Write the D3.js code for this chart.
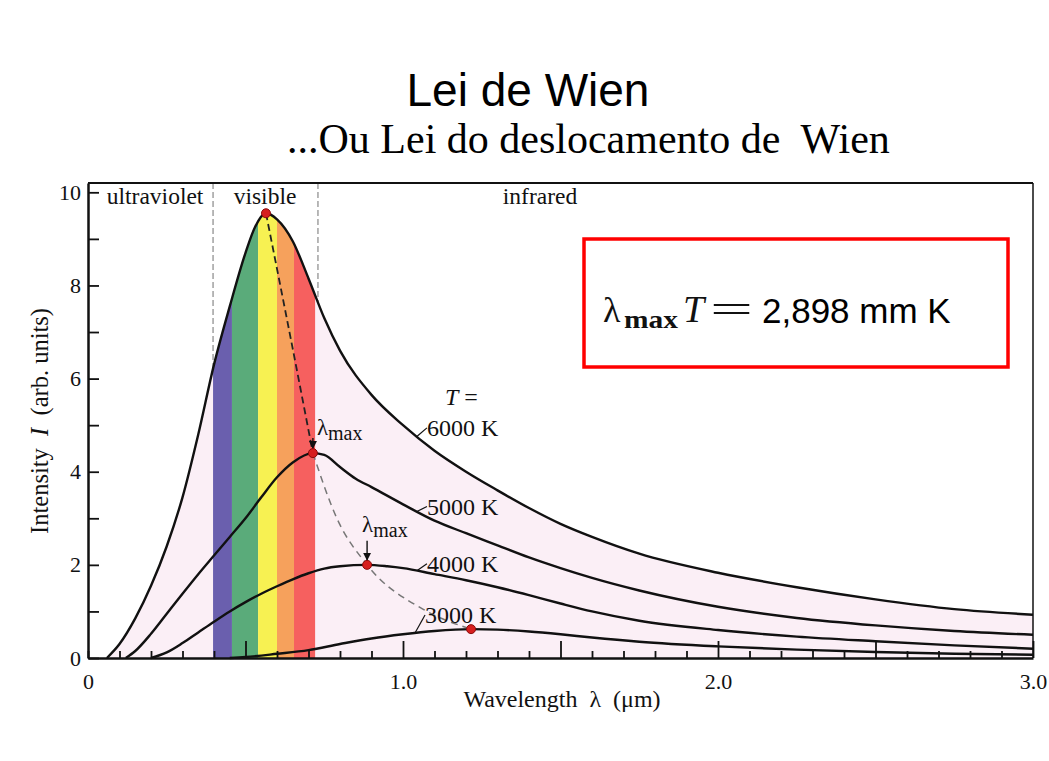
<!DOCTYPE html>
<html><head><meta charset="utf-8">
<script src="https://cdn.jsdelivr.net/npm/d3@7"></script>
<style>body{margin:0;background:#fff}svg{display:block}</style>
</head><body><svg id="c" width="1049" height="761"></svg>
<script>
// ---------- data ----------
const tempLabels = ["6000 K", "5000 K", "4000 K", "3000 K"];

const lam6000 = [0.06,0.10,0.15,0.20,0.25,0.30,0.35,0.40,0.45,0.50,0.53,0.565,0.60,0.65,0.70,0.75,0.80,0.90,1.00,1.10,1.20,1.30,1.40,1.50,1.60,1.75,2.00,2.25,2.50,2.75,3.00];
const int6000 = [0,0.3,0.85,1.55,2.4,3.45,4.8,6.3,7.55,8.7,9.25,9.55,9.42,8.95,8.15,7.3,6.6,5.65,5.0,4.45,4.0,3.6,3.22,2.88,2.6,2.24,1.83,1.52,1.26,1.05,0.93];

const lam5000 = [0.12,0.15,0.20,0.25,0.30,0.35,0.40,0.45,0.50,0.55,0.60,0.65,0.714,0.75,0.80,0.85,0.90,1.00,1.10,1.20,1.30,1.40,1.50,1.60,1.75,2.00,2.25,2.50,2.75,3.00];
const int5000 = [0,0.15,0.52,0.95,1.38,1.8,2.2,2.6,3.0,3.45,3.88,4.2,4.4,4.36,4.1,3.85,3.67,3.3,2.95,2.68,2.42,2.16,1.93,1.72,1.45,1.1,0.86,0.7,0.58,0.5];

const lam4000 = [0.20,0.25,0.30,0.35,0.40,0.45,0.50,0.55,0.60,0.65,0.70,0.75,0.80,0.886,0.95,1.00,1.10,1.20,1.30,1.40,1.50,1.60,1.75,2.00,2.25,2.50,2.75,3.00];
const int4000 = [0,0.12,0.32,0.55,0.78,1.0,1.2,1.38,1.54,1.69,1.82,1.92,1.97,2.0,1.97,1.93,1.8,1.67,1.52,1.35,1.17,1.0,0.8,0.6,0.46,0.36,0.27,0.2];

const lam3000 = [0.45,0.50,0.60,0.70,0.80,0.90,1.00,1.10,1.216,1.30,1.40,1.50,1.60,1.75,2.00,2.25,2.50,2.75,3.00];
const int3000 = [0,0.02,0.09,0.17,0.3,0.42,0.51,0.58,0.62,0.61,0.57,0.51,0.44,0.35,0.25,0.18,0.13,0.09,0.07];

const peakLambda = [0.565, 0.714, 0.886, 1.216];
const peakIntensity = [9.55, 4.4, 2.0, 0.62];

const locusLambda = [0.565, 0.641, 0.714, 0.79, 0.886, 1.063, 1.216];
const locusIntensity = [9.55, 6.95, 4.4, 3.0, 2.0, 1.05, 0.62];

const bandEdges = [0.397, 0.457, 0.54, 0.60, 0.654, 0.721];
const regionBounds = [0.397, 0.73];
const regionLabels = ["ultraviolet", "visible", "infrared"];
const regionCenters = [0.213, 0.562, 1.435];

const yTicks = [0,1,2,3,4,5,6,7,8,9,10];
const xTicks = d3.range(0, 31).map(i => i / 10);
const xTickLabels = {0: "0", 1: "1.0", 2: "2.0", 3: "3.0"};

// ---------- styles ----------
const bandColors = ["#6a5fae", "#5aab7a", "#f7f152", "#f6a15c", "#f6605f"];
const pink = "#fbeff6";
const serif = "'Liberation Serif', 'Times New Roman', serif";
const sans = "'Liberation Sans', Arial, sans-serif";

// ---------- setup ----------
const svg = d3.select("#c");
const x = d3.scaleLinear().domain([0, 3]).range([88, 1033]);
const y = d3.scaleLinear().domain([0, 10.2]).range([658, 183]);

const toPts = (l, v) => l.map((d, i) => [d, v[i]]);
const curves = [toPts(lam6000, int6000), toPts(lam5000, int5000), toPts(lam4000, int4000), toPts(lam3000, int3000)];
const line = d3.line().x(d => x(d[0])).y(d => y(d[1])).curve(d3.curveMonotoneX);
const area = d3.area().x(d => x(d[0])).y0(y(0)).y1(d => y(d[1])).curve(d3.curveMonotoneX);

function interp(pts, l) {
  const i = d3.bisector(d => d[0]).left(pts, l);
  if (i <= 0) return pts[0][1];
  if (i >= pts.length) return pts[pts.length - 1][1];
  const a = pts[i - 1], b = pts[i];
  return a[1] + (b[1] - a[1]) * (l - a[0]) / (b[0] - a[0]);
}

const defs = svg.append("defs");
defs.append("clipPath").attr("id", "spec").append("path").attr("d", area(curves[0]));
defs.append("marker").attr("id", "arr").attr("viewBox", "0 0 10 10")
  .attr("refX", 10).attr("refY", 5).attr("markerWidth", 8).attr("markerHeight", 9)
  .attr("markerUnits", "userSpaceOnUse").attr("orient", "auto")
  .append("path").attr("d", "M0,0L10,5L0,10Z").attr("fill", "#111");

// region separators (under fill)
svg.selectAll("line.sep").data(regionBounds).join("line")
  .attr("x1", d => x(d)).attr("x2", d => x(d))
  .attr("y1", y(10.2)).attr("y2", y(0))
  .attr("stroke", "#9a9a9a").attr("stroke-width", 1.4).attr("stroke-dasharray", "6,3");

// pink area + spectrum bands
svg.append("path").attr("d", area(curves[0])).attr("fill", pink);
svg.append("g").attr("clip-path", "url(#spec)")
  .selectAll("rect").data(bandColors).join("rect")
  .attr("x", (d, i) => x(bandEdges[i]))
  .attr("width", (d, i) => x(bandEdges[i + 1]) - x(bandEdges[i]))
  .attr("y", y(10.2)).attr("height", y(0) - y(10.2))
  .attr("fill", d => d);

// curves
svg.selectAll("path.curve").data(curves).join("path")
  .attr("class", "curve").attr("d", line)
  .attr("fill", "none").attr("stroke", "#111").attr("stroke-width", 2.4);

// Wien locus
const locus = toPts(locusLambda, locusIntensity);
svg.append("path").attr("d", line(locus.slice(0, 3)))
  .attr("fill", "none").attr("stroke", "#222").attr("stroke-width", 1.8).attr("stroke-dasharray", "7,4");
svg.append("path").attr("d", line(locus.slice(2)))
  .attr("fill", "none").attr("stroke", "#777").attr("stroke-width", 1.5).attr("stroke-dasharray", "7,5");

// lambda max labels and arrows
const lmaxIdx = [1, 2];
const lmaxOff = [{dx: 4, dy: -18, a0: -15}, {dx: -5, dy: -33, a0: -24}];
lmaxIdx.forEach((k, j) => {
  const px = x(peakLambda[k]), py = y(peakIntensity[k]);
  const o = lmaxOff[j];
  svg.append("line").attr("x1", px).attr("x2", px).attr("y1", py + o.a0).attr("y2", py - 4)
    .attr("stroke", "#111").attr("stroke-width", 1.4).attr("marker-end", "url(#arr)");
  const t = svg.append("text").attr("x", px + o.dx).attr("y", py + o.dy)
    .attr("font-family", serif).attr("fill", "#111");
  t.append("tspan").attr("font-size", 23).text("λ");
  t.append("tspan").attr("font-size", 20).attr("dy", 5).text("max");
});

// peaks
svg.selectAll("circle.pk").data(peakLambda).join("circle")
  .attr("cx", d => x(d)).attr("cy", (d, i) => y(peakIntensity[i])).attr("r", 4.5)
  .attr("fill", "#d61e1e").attr("stroke", "#8a0a0a").attr("stroke-width", 1);

// temperature labels
const labelPos = [[1.076, 4.77], [1.076, 3.08], [1.076, 1.85], [1.07, 0.75]];
const connL = [1.044, 1.044, 1.044, 1.038];
labelPos.forEach((p, i) => {
  const cx0 = x(connL[i]), cy0 = y(interp(curves[i], connL[i]));
  svg.append("line").attr("x1", cx0).attr("y1", cy0)
    .attr("x2", x(p[0])).attr("y2", y(p[1]) - 8)
    .attr("stroke", "#111").attr("stroke-width", 1.2);
  svg.append("text").attr("x", x(p[0])).attr("y", y(p[1]))
    .attr("font-family", serif).attr("font-size", 24).attr("fill", "#111")
    .text(tempLabels[i]);
});
const tl = svg.append("text").attr("x", x(1.133)).attr("y", y(5.44))
  .attr("font-family", serif).attr("font-size", 24).attr("fill", "#111").style("white-space", "pre");
tl.append("tspan").attr("font-style", "italic").text("T");
tl.append("tspan").text(" =");

// region labels
svg.selectAll("text.reg").data(regionLabels).join("text")
  .attr("x", (d, i) => x(regionCenters[i])).attr("y", y(9.74))
  .attr("text-anchor", "middle").attr("font-family", serif).attr("font-size", 23.5).attr("fill", "#111")
  .text(d => d);

// axes
const yAxis = d3.axisLeft(y).tickValues(yTicks).tickSize(-11).tickSizeOuter(0).tickPadding(7)
  .tickFormat(d => d % 2 === 0 ? d : "");
const gy = svg.append("g").attr("transform", `translate(${x(0)},0)`).call(yAxis);
gy.select(".domain").attr("stroke", "#111").attr("stroke-width", 2.5);
gy.selectAll(".tick line").attr("stroke", "#111").attr("stroke-width", 1.8);
gy.selectAll("text").attr("font-family", serif).attr("font-size", 22).attr("fill", "#111");

const xAxis = d3.axisBottom(x).tickValues(xTicks).tickSize(-7).tickSizeOuter(0).tickPadding(15)
  .tickFormat(d => { const r = Math.round(d * 10); return r % 10 === 0 ? xTickLabels[r / 10] : ""; });
const gx = svg.append("g").attr("transform", `translate(0,${y(0)})`).call(xAxis);
gx.select(".domain").attr("stroke", "#111").attr("stroke-width", 2.5);
gx.selectAll(".tick line").attr("stroke", "#111").attr("stroke-width", 1.8)
  .attr("y2", d => Math.round(d * 10) % 5 === 0 && d > 0 ? -17 : -7);
gx.selectAll("text").attr("font-family", serif).attr("font-size", 22).attr("fill", "#111");

// frame top/right
svg.append("line").attr("x1", x(0)).attr("x2", x(3)).attr("y1", y(10.2)).attr("y2", y(10.2))
  .attr("stroke", "#111").attr("stroke-width", 2.2);
svg.append("line").attr("x1", x(3)).attr("x2", x(3)).attr("y1", y(10.2)).attr("y2", y(0))
  .attr("stroke", "#111").attr("stroke-width", 1.5);

// axis titles
svg.append("text").attr("x", 562).attr("y", 707).attr("text-anchor", "middle")
  .attr("font-family", serif).attr("font-size", 24).attr("fill", "#111").style("white-space", "pre")
  .text("Wavelength  λ  (μm)");
const yl = svg.append("text").attr("transform", "translate(48,421) rotate(-90)").attr("text-anchor", "middle")
  .attr("font-family", serif).attr("font-size", 24.5).attr("fill", "#111").style("white-space", "pre");
yl.append("tspan").text("Intensity  ");
yl.append("tspan").attr("font-style", "italic").text("I");
yl.append("tspan").text("  (arb. units)");

// titles
svg.append("text").attr("x", 528).attr("y", 106).attr("text-anchor", "middle")
  .attr("font-family", sans).attr("font-size", 46).attr("fill", "#000").text("Lei de Wien");
svg.append("text").attr("x", 287).attr("y", 153)
  .attr("font-family", serif).attr("font-size", 42).attr("fill", "#000").style("white-space", "pre")
  .text("...Ou Lei do deslocamento de  Wien");

// formula box
svg.append("rect").attr("x", 584).attr("y", 239).attr("width", 424).attr("height", 128)
  .attr("fill", "none").attr("stroke", "#ff0000").attr("stroke-width", 3.5);
svg.append("text").attr("x", 603).attr("y", 322).attr("font-family", serif).attr("font-size", 36).attr("fill", "#111").text("λ");
svg.append("text").attr("x", 624).attr("y", 328).attr("font-family", serif).attr("font-size", 26).attr("font-weight", "bold").attr("fill", "#111")
  .attr("textLength", 54).attr("lengthAdjust", "spacingAndGlyphs").text("max");
svg.append("text").attr("x", 683).attr("y", 322).attr("font-family", serif).attr("font-size", 38).attr("font-style", "italic").attr("fill", "#111").text("T");
svg.append("text").attr("x", 710).attr("y", 322).attr("font-family", serif).attr("font-size", 38).attr("fill", "#111")
  .attr("textLength", 43).attr("lengthAdjust", "spacingAndGlyphs").text("=");
svg.append("text").attr("x", 762).attr("y", 323).attr("font-family", sans).attr("font-size", 35).attr("fill", "#000").text("2,898 mm K");
</script>
</body></html>
